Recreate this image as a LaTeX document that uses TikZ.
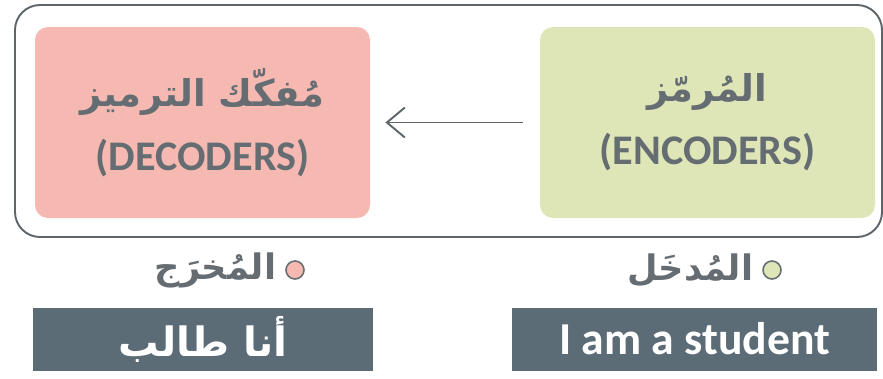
\documentclass[tikz,border=0pt]{standalone}
\usepackage{fontspec}
\setmainfont{Carlito}
\newfontfamily\arabicfont[Script=Arabic]{DejaVu Sans}
\TeXXeTstate=1
\usetikzlibrary{arrows.meta,positioning}

\definecolor{decpink}{HTML}{F5B9B2}
\definecolor{encgreen}{HTML}{DEE6B8}
\definecolor{slate}{HTML}{5C6C77}
\definecolor{inkgray}{HTML}{656D72}
\definecolor{framegray}{HTML}{5E666B}

\newcommand{\arline}[1]{{\fontsize{21}{24}\arabicfont\bfseries\beginR #1\endR}}

\begin{document}
\begin{tikzpicture}[
    outerframe/.style={draw=framegray, line width=1.1pt, rounded corners=0.5cm},
    coder/.style={rounded corners=0.26cm, minimum width=6.7cm, minimum height=3.82cm,
      text=inkgray, align=center, font=\fontsize{24}{36}\selectfont\bfseries},
    sentence/.style={fill=slate, text=white, minimum height=1.26cm,
      font=\fontsize{26}{30}\selectfont\bfseries},
    legenddot/.style={circle, draw=inkgray, line width=0.9pt, minimum size=0.36cm, inner sep=0pt},
    taglabel/.style={text=inkgray, inner sep=1pt, font=\arabicfont\fontsize{20}{22}\selectfont\bfseries},
    flow/.style={-{Straight Barb[length=0.36cm,width=0.6cm]}, draw=framegray, line width=1.1pt}
  ]
    \useasboundingbox (0,0) rectangle (17.66,-7.56);
    \draw[outerframe] (0.30,-0.10) rectangle (17.64,-4.74);

    \node[coder, fill=decpink] (dec) at (4.05,-2.45) {\arline{مُفكّك الترميز}\\(DECODERS)};
    \node[coder, fill=encgreen] (enc) at (14.15,-2.45) {\arline{المُرمّز}\\(ENCODERS)};
    \draw[flow, shorten <=0.34cm, shorten >=0.3cm] (enc) -- (dec);

    % output / input
    \node[legenddot, fill=decpink] (outdot) at (5.9,-5.40) {};
    \node[taglabel, left=0.14cm of outdot] (outtag) {\beginR المُخرَج\endR};
    \node[legenddot, fill=encgreen] (indot) at (15.44,-5.40) {};
    \node[taglabel, left=0.14cm of indot] (intag) {\beginR المُدخَل\endR};

    \node[sentence, minimum width=6.8cm] (outtext) at (4.06,-6.79)
      {\arabicfont\fontsize{23}{26}\selectfont\beginR أنا طالب\endR};
    \node[sentence, minimum width=7.3cm] (intext) at (13.89,-6.78) {I am a student};
  \end{tikzpicture}
\end{document}
